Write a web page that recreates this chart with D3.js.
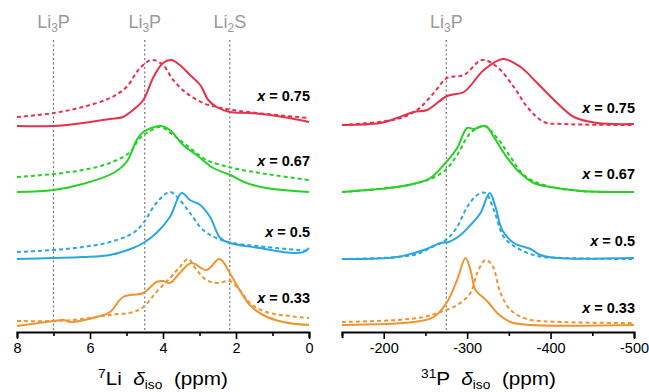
<!DOCTYPE html>
<html>
<head>
<meta charset="utf-8">
<script src="https://cdn.jsdelivr.net/npm/d3@7"></script>
<style>
  body { margin: 0; background: #fff; }
  svg text { font-family: "Liberation Sans", Arial, sans-serif; }
</style>
</head>
<body>
<div id="chart"></div>
<script>
// DATA  [ppm, intensity]  (spectra stacked, arbitrary units)
const samples = ["0.75", "0.67", "0.5", "0.33"];
const colors = ["#e8304a", "#26d026", "#2aa6e2", "#f09330"];

// 7Li spectra
const liSolid075 = [[8,206],[7,206],[6.2,209],[5.45,213],[5.1,215],[4.82,222],[4.54,232],[4.26,255],[4.0,269],[3.77,272],[3.54,267],[3.26,257],[2.98,247],[2.76,232],[2.53,225],[2.17,220],[1.62,219],[0.71,215],[0,210]];
const liDash075 = [[8,215],[7,219],[6.2,225],[5.45,234],[5.0,245],[4.63,264],[4.31,272],[4.0,267],[3.72,252],[3.36,239],[2.9,229],[2.53,225],[2.08,222],[1.17,218],[0,214]];
const liSolid067 = [[8,140],[7,142],[6.2,148],[5.36,159],[5.0,170],[4.72,192],[4.54,200],[4.08,206],[3.81,202],[3.45,187],[3.08,177],[2.62,164],[2.16,157],[1.71,149],[1.17,144],[0,140]];
const liDash067 = [[8,155],[7,158],[6.2,162],[5.45,169],[4.9,180],[4.63,194],[4.4,200],[4.08,205],[3.72,197],[3.26,184],[2.81,172],[2.08,164],[1.17,158],[0,152]];
const liSolid05 = [[8,73],[7,74],[6.2,75],[5.45,77],[4.82,84],[4.54,89],[4.18,99],[3.81,115],[3.49,139],[3.26,132],[2.98,127],[2.71,115],[2.43,94],[2.17,89],[1.35,84],[0.43,79],[0.15,80],[0,84]];
const liDash05 = [[8,80],[7,82],[6.2,85],[5.45,90],[4.82,99],[4.54,109],[4.18,129],[3.81,140],[3.54,132],[3.26,119],[2.9,102],[2.53,94],[2.08,89],[1.17,85],[0,81]];
const liSolid033 = [[8,6],[7,11],[6.73,12],[6.55,10],[5.73,16],[5.45,20],[5.09,35],[4.54,39],[4.18,50],[4.0,51],[3.81,49],[3.54,59],[3.22,69],[2.81,62],[2.45,73],[2.17,59],[1.9,42],[1.62,27],[1.26,17],[0.71,10],[0,7]];
const liDash033 = [[8,11],[7,11],[6.2,13],[5.45,17],[4.82,20],[4.54,25],[4.18,40],[3.81,54],[3.54,65],[3.31,73],[3.08,62],[2.81,52],[2.49,49],[2.17,51],[1.9,42],[1.62,29],[1.17,20],[0,14]];

// 31P spectra
const pSolid075 = [[-150,207],[-196,209],[-216,214],[-236,220],[-252,222],[-276,236],[-296,240],[-320,262],[-343,273],[-364,265],[-384,249],[-408,229],[-428,215],[-456,209],[-500,208]];
const pDash075 = [[-150,207],[-216,213],[-240,222],[-260,239],[-276,254],[-296,257],[-318,272],[-336,265],[-356,245],[-372,225],[-392,210],[-416,208],[-500,207]];
const pSolid067 = [[-150,140],[-216,145],[-240,149],[-256,154],[-274,169],[-288,184],[-300,204],[-308,203],[-322,206],[-332,195],[-344,179],[-360,162],[-380,149],[-400,145],[-436,141],[-500,140]];
const pDash067 = [[-150,140],[-216,145],[-240,149],[-256,153],[-274,162],[-288,177],[-304,199],[-320,206],[-336,194],[-352,175],[-368,157],[-392,147],[-436,141],[-500,140]];
const pSolid05 = [[-150,73],[-216,75],[-248,82],[-268,89],[-278,90],[-292,97],[-304,107],[-316,119],[-327,139],[-334,125],[-342,102],[-356,89],[-376,83],[-388,77],[-408,74],[-500,74]];
const pDash05 = [[-150,73],[-236,77],[-256,84],[-276,93],[-288,105],[-300,125],[-312,137],[-322,139],[-332,122],[-344,95],[-360,84],[-384,76],[-416,74],[-500,73]];
const pSolid033 = [[-150,7],[-236,10],[-260,15],[-276,30],[-288,52],[-298,74],[-304,62],[-310,42],[-320,34],[-326,29],[-336,19],[-352,10],[-376,7],[-500,7]];
const pDash033 = [[-150,10],[-216,12],[-248,15],[-268,20],[-288,27],[-304,39],[-312,59],[-322,72],[-330,67],[-340,39],[-352,22],[-372,13],[-416,10],[-500,9]];

const liTicks = [8, 7, 6, 5, 4, 3, 2, 1, 0];
const pTicks = [-150, -200, -250, -300, -350, -400, -450, -500];
const liRefs = [{ ppm: 7.0, label: "Li", sub: "3", tail: "P" }, { ppm: 4.5, label: "Li", sub: "3", tail: "P" }, { ppm: 2.17, label: "Li", sub: "2", tail: "S" }];
const pRefs = [{ ppm: -275, label: "Li", sub: "3", tail: "P" }];

const svg = d3.select("#chart").append("svg").attr("width", 649).attr("height", 392);

const axisY = 332;
// intensity scale shared by both panels
const y = d3.scaleLinear().domain([0, 310]).range([axisY, 22]);
// label heights (intensity units) for each sample, left and right panels
const labelLevelLi = [231, 166, 95, 29];
const labelLevelP = [219, 153, 86, 19];

function drawPanel(cfg) {
  const x = d3.scaleLinear().domain(cfg.domain).range(cfg.range);
  const g = svg.append("g");

  // reference lines
  cfg.refs.forEach(r => {
    g.append("line")
      .attr("x1", x(r.ppm)).attr("x2", x(r.ppm))
      .attr("y1", 40).attr("y2", axisY)
      .attr("stroke", "#777").attr("stroke-width", 1.2)
      .attr("stroke-dasharray", "2,2.5");
    const t = g.append("text")
      .attr("x", x(r.ppm)).attr("y", 28)
      .attr("text-anchor", "middle")
      .attr("fill", "#9a9a9a").attr("font-size", 18);
    t.append("tspan").text(r.label);
    t.append("tspan").attr("font-size", 12).attr("dy", 4).text(r.sub);
    t.append("tspan").attr("dy", -4).text(r.tail);
  });

  const line = d3.line()
    .curve(d3.curveCatmullRom.alpha(0.5))
    .x(d => x(d[0]))
    .y(d => y(d[1]));

  cfg.spectra.forEach((s, i) => {
    g.append("path").datum(s.dash)
      .attr("fill", "none").attr("stroke", colors[i])
      .attr("stroke-width", 2).attr("stroke-dasharray", "4,3")
      .attr("d", line);
    g.append("path").datum(s.solid)
      .attr("fill", "none").attr("stroke", colors[i])
      .attr("stroke-width", 2)
      .attr("d", line);
    const lab = g.append("text")
      .attr("x", cfg.range[1] + 1).attr("y", y(cfg.labels[i]))
      .attr("text-anchor", "end")
      .attr("font-size", 14.5).attr("font-weight", "bold");
    lab.append("tspan").attr("font-style", "italic").text("x");
    lab.append("tspan").text(" = " + samples[i]);
  });

  // axis
  const axis = d3.axisBottom(x)
    .tickValues(cfg.ticks)
    .tickSizeOuter(0)
    .tickSize(6)
    .tickPadding(5)
    .tickFormat(d => cfg.major(d) ? String(d) : "");
  const ax = g.append("g")
    .attr("transform", "translate(0," + axisY + ")")
    .call(axis);
  ax.select(".domain").attr("stroke-width", 2);
  ax.selectAll(".tick line").attr("stroke-width", 1.6)
    .attr("y2", d => cfg.major(d) ? 7 : 4);
  ax.selectAll(".tick text")
    .attr("font-size", 14.5).attr("fill", "#000")
    .style("font-family", "'Liberation Sans', Arial, sans-serif");

  // axis title (source figure is slightly stretched horizontally)
  const title = g.append("text")
    .attr("transform", "translate(" + cfg.titleX + ",385) scale(1.15,1)")
    .attr("font-size", 18)
    .style("white-space", "pre");
  title.append("tspan").attr("font-size", 12).attr("dy", -7).text(cfg.nucleus[0]);
  title.append("tspan").attr("dy", 7).text(cfg.nucleus[1] + "  ");
  title.append("tspan").attr("font-style", "italic").text("δ");
  title.append("tspan").attr("font-size", 12).attr("dy", 4).text("iso");
  title.append("tspan").attr("dy", -4).text("  (ppm)");
}

drawPanel({
  domain: [8, 0], range: [17, 309],
  ticks: liTicks, major: d => d % 2 === 0,
  refs: liRefs,
  labels: labelLevelLi,
  spectra: [
    { solid: liSolid075, dash: liDash075 },
    { solid: liSolid067, dash: liDash067 },
    { solid: liSolid05, dash: liDash05 },
    { solid: liSolid033, dash: liDash033 }
  ],
  nucleus: ["7", "Li"], titleX: 98
});

drawPanel({
  domain: [-150, -500], range: [342, 634],
  ticks: pTicks, major: d => d % 100 === 0,
  refs: pRefs,
  labels: labelLevelP,
  spectra: [
    { solid: pSolid075, dash: pDash075 },
    { solid: pSolid067, dash: pDash067 },
    { solid: pSolid05, dash: pDash05 },
    { solid: pSolid033, dash: pDash033 }
  ],
  nucleus: ["31", "P"], titleX: 421
});
</script>
</body>
</html>
